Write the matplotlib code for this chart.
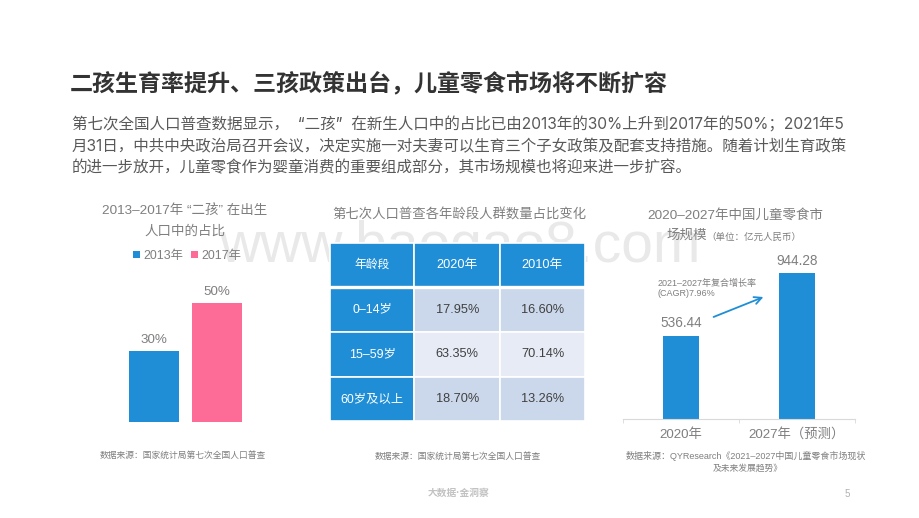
import matplotlib
matplotlib.use("Agg")
import matplotlib.pyplot as plt

plt.rcParams['font.family'] = ['Liberation Sans', 'Noto Sans CJK SC', 'DejaVu Sans']

W, H = 920, 518

# ---- data ----
TITLE = "二孩生育率提升、三孩政策出台，儿童零食市场将不断扩容"
BODY = ["第七次全国人口普查数据显示，  “二孩”  在新生人口中的占比已由2013年的30%上升到2017年的50%；2021年5",
        "月31日，中共中央政治局召开会议，决定实施一对夫妻可以生育三个子女政策及配套支持措施。随着计划生育政策",
        "的进一步放开，儿童零食作为婴童消费的重要组成部分，其市场规模也将迎来进一步扩容。"]
share_years = ["2013年", "2017年"]
share_values = [30, 50]
table_cols = ["年龄段", "2020年", "2010年"]
table_rows = [["0–14岁", "17.95%", "16.60%"],
              ["15–59岁", "63.35%", "70.14%"],
              ["60岁及以上", "18.70%", "13.26%"]]
market_labels = ["2020年", "2027年（预测）"]
market_values = [536.44, 944.28]

BLUE = "#1f8ed6"
PINK = "#fd6b97"
GREY = "#7f7f7f"
DARK = "#404040"


def axpx(x0, y0, x1, y1):
    """axes from pixel box (y measured from top)"""
    return fig.add_axes([x0 / W, 1 - y1 / H, (x1 - x0) / W, (y1 - y0) / H])


fig = plt.figure(figsize=(W / 100, H / 100), dpi=100, facecolor="white")

# page overlay in pixel coordinates
bg = fig.add_axes([0, 0, 1, 1])
bg.set_xlim(0, W)
bg.set_ylim(H, 0)
bg.axis("off")


def T(x, y, s, size, color=GREY, ha="left", va="center", **kw):
    return bg.text(x, y, s, fontsize=size, color=color, ha=ha, va=va, **kw)


# watermark
T(460, 262, "www.baogao8.com", 41, color="#e9e9e9", ha="center", va="baseline",
  family=["Liberation Sans"], zorder=0)

T(70, 83, TITLE, 16.6, color="#333333", weight="bold")
for y, line in zip([125, 147, 168], BODY):
    T(72, y, line, 11.2, color="#595959", family=["Inter", "Noto Sans CJK SC"])

# ---- left chart ----
T(185, 211, "2013–2017年 “二孩” 在出生", 9.7, ha="center")
T(185, 231, "人口中的占比", 9.7, ha="center")
ax1 = axpx(91, 280, 280, 422)
ax1.patch.set_alpha(0)
bars = ax1.bar([0, 1], share_values, width=0.794, color=[BLUE, PINK])
ax1.set_xlim(-1, 2)
ax1.set_ylim(0, 142 / 2.38)
ax1.axis("off")
ax1.bar_label(bars, labels=[f"{v}%" for v in share_values], padding=3.5,
              fontsize=9.6, color=GREY)
fig.legend(bars, share_years, loc="center", bbox_to_anchor=(187 / W, 1 - 256 / H),
           ncol=2, frameon=False, fontsize=8.9, labelcolor=GREY, handlelength=0.55,
           handleheight=0.55, handletextpad=0.3, columnspacing=0.6)
T(183, 455, "数据来源：国家统计局第七次全国人口普查", 6.3, ha="center")

# ---- table ----
T(459, 215, "第七次人口普查各年龄段人群数量占比变化", 9.6, ha="center")
ax2 = axpx(330, 243, 585, 421)
ax2.axis("off")
tb = ax2.table(cellText=[table_cols] + table_rows, cellLoc="center",
               bbox=[0, 0, 1, 1], colWidths=[84.5, 85.5, 85])
tb.auto_set_font_size(False)
fills = ["#cbd8eb", "#e6ebf5", "#cbd8eb"]
for (r, c), cell in tb.get_celld().items():
    cell.set_edgecolor("white")
    cell.set_linewidth(1.2)
    cell.set_height(44.5)
    head = r == 0 or c == 0
    cell.set_facecolor(BLUE if head else fills[r - 1])
    cell.get_text().set_color("white" if head else DARK)
    size = 9.2
    if c == 0:
        size = 8.5 if r == 0 else 8.9
    cell.get_text().set_fontsize(size)
# wider gap under the header row
ax2.axhline(1 - 44 / 178, color="white", lw=2.4, zorder=10)
T(458, 456, "数据来源：国家统计局第七次全国人口普查", 6.3, ha="center")

# ---- right chart ----
T(735, 215, "2020–2027年中国儿童零食市", 9.7, ha="center")
T(667, 236, "场规模", 9.7)
T(706, 237, "（单位：亿元人民币）", 6.85)
ax3 = axpx(623, 240, 855, 418.5)
ax3.patch.set_alpha(0)
b3 = ax3.bar([0, 1], market_values, width=36 / 116, color=BLUE)
ax3.set_xlim(-0.5, 1.5)
ax3.set_ylim(0, 178.5 / 0.154)
for s in ["top", "left", "right"]:
    ax3.spines[s].set_visible(False)
ax3.spines["bottom"].set_color("#d9d9d9")
ax3.set_yticks([])
ax3.set_xticks([-0.5, 0.5, 1.5], minor=True)
ax3.tick_params(axis="x", which="minor", length=3, color="#d9d9d9", direction="out")
ax3.set_xticks([0, 1], market_labels)
ax3.tick_params(axis="x", which="major", length=0, labelsize=9.6, labelcolor=GREY, pad=7)
ax3.bar_label(b3, labels=[f"{v:.2f}" for v in market_values], padding=4,
              fontsize=9.8, color=GREY)
T(658, 283, "2021–2027年复合增长率", 6.5)
T(658, 294, "(CAGR)7.96%", 6.5)
bg.annotate("", xy=(766, 296), xytext=(711, 318), zorder=5,
            arrowprops=dict(arrowstyle="->", color=BLUE, lw=1.3, mutation_scale=13))
T(626, 456, "数据来源：QYResearch《2021–2027中国儿童零食市场现状", 6.5)
T(748, 468, "及未来发展趋势》", 6.3, ha="center")

# footer
T(459, 493, "大数据·金洞察", 7, color="#c2c2c2", ha="center", weight="bold")
T(847, 494, "5", 7, color="#b0b0b0", ha="center")

fig.savefig("out.png", dpi=100)
